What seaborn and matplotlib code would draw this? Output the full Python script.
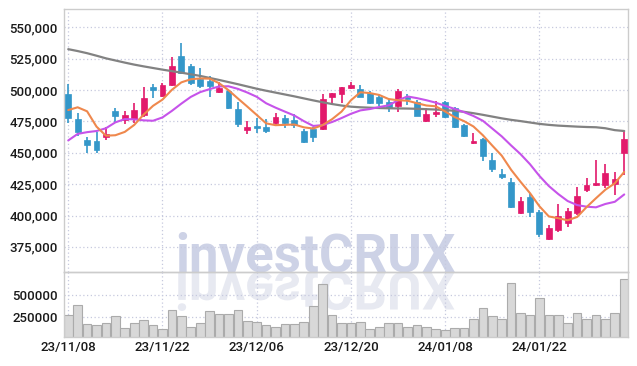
import numpy as np
import pandas as pd
import seaborn as sns
from matplotlib import pyplot as plt
from matplotlib.patches import PathPatch
from matplotlib.textpath import TextPath
from matplotlib.font_manager import FontProperties
from matplotlib.transforms import Affine2D
from matplotlib.ticker import FuncFormatter

# trading days (KRX), 23/11/08 .. 24/02/02
dates = ['23/11/08', '23/11/09', '23/11/10', '23/11/13', '23/11/14', '23/11/15', '23/11/16', '23/11/17', '23/11/20', '23/11/21',
         '23/11/22', '23/11/23', '23/11/24', '23/11/27', '23/11/28', '23/11/29', '23/11/30', '23/12/01', '23/12/04', '23/12/05',
         '23/12/06', '23/12/07', '23/12/08', '23/12/11', '23/12/12', '23/12/13', '23/12/14', '23/12/15', '23/12/18', '23/12/19',
         '23/12/20', '23/12/21', '23/12/22', '23/12/26', '23/12/27', '23/12/28', '24/01/02', '24/01/03', '24/01/04', '24/01/05',
         '24/01/08', '24/01/09', '24/01/10', '24/01/11', '24/01/12', '24/01/15', '24/01/16', '24/01/17', '24/01/18', '24/01/19',
         '24/01/22', '24/01/23', '24/01/24', '24/01/25', '24/01/26', '24/01/29', '24/01/30', '24/01/31', '24/02/01', '24/02/02']

open_ = [496800, 476900, 460100, 459400, 462800, 483500, 476100, 476700, 480100, 502200,
         495500, 504000, 527100, 519100, 508800, 507400, 498700, 499200, 484900, 468100,
         471600, 470800, 473500, 477500, 476100, 467400, 468700, 468700, 494700, 496600,
         501900, 500600, 497900, 494200, 490200, 487500, 494700, 490700, 475600, 480900,
         490700, 485400, 472100, 457600, 460700, 444200, 433300, 427000, 401800, 415000,
         402600, 381300, 388500, 394300, 401800, 420300, 424300, 424300, 425400, 449600]
high = [504800, 481400, 462300, 466800, 470800, 485400, 483000, 489400, 502600, 504800,
        505800, 526600, 537700, 520500, 517300, 511200, 506600, 500000, 490700, 475600,
        477500, 476700, 481900, 480100, 480900, 468700, 470800, 496800, 497600, 502400,
        506600, 504000, 499200, 496000, 492100, 500600, 496600, 492100, 485400, 491300,
        491300, 486500, 472500, 465500, 461800, 449600, 437100, 430100, 415000, 417700,
        404400, 392500, 409000, 405800, 423000, 429700, 444200, 440800, 434700, 466300]
low = [473900, 463300, 450000, 450000, 460100, 474700, 472700, 473500, 478300, 493400,
       494700, 503000, 512800, 504000, 501600, 494700, 497400, 485000, 470300, 465000,
       466000, 465500, 472100, 469500, 469500, 457600, 458800, 468100, 488900, 489400,
       500600, 494200, 488900, 487300, 482700, 482700, 488100, 478900, 474300, 478300,
       477700, 470100, 462300, 457000, 443700, 434400, 428900, 406200, 401000, 399000,
       382900, 380500, 387100, 391100, 400400, 419000, 423900, 421700, 416400, 432300]
close = [477500, 466800, 456400, 452200, 465000, 479300, 480100, 484100, 493400, 500000,
         504000, 519100, 513800, 505800, 503200, 503200, 501200, 485900, 472700, 470800,
         470000, 467600, 478700, 474000, 472100, 458800, 462800, 492600, 497400, 502200,
         504000, 494700, 489400, 489900, 485900, 499200, 492900, 479500, 480700, 482700,
         478300, 470800, 463400, 459400, 447700, 437100, 430900, 406800, 411600, 402600,
         385000, 390300, 399600, 403600, 415600, 424300, 425700, 433700, 428900, 461000]
volume = [268000, 379000, 175000, 164000, 186000, 255000, 131000, 186000, 220000, 164000,
          119000, 331000, 255000, 143000, 186000, 318000, 278000, 287000, 331000, 209000,
          195000, 164000, 142000, 175000, 175000, 197000, 368000, 622000, 277000, 186000,
          186000, 197000, 119000, 142000, 186000, 186000, 142000, 155000, 135000, 119000,
          108000, 131000, 131000, 231000, 354000, 257000, 231000, 633000, 298000, 276000,
          465000, 276000, 276000, 186000, 298000, 231000, 276000, 231000, 298000, 677000]

# moving-average values before enough history is on screen
ma5_head = [484000, 486200, 483000, 470800]
ma10_head = [459800, 465000, 466400, 467300, 469500, 474200, 476800, 476600, 475800]
ma60 = [532500, 531000, 529300, 527300, 525200, 523500, 521800, 520200, 518800, 517500,
        516200, 515000, 513800, 512500, 511200, 509600, 508000, 506300, 504600, 502800,
        501000, 499400, 497900, 496400, 494900, 493300, 491700, 490200, 488800, 487600,
        486700, 486200, 485900, 485600, 485400, 485300, 485200, 485000, 484700, 484400,
        484000, 483400, 482600, 481500, 480200, 478800, 477400, 476200, 475200, 474100,
        473000, 472200, 471600, 471200, 470800, 470500, 470300, 469500, 468000, 467300]

df = pd.DataFrame({'date': dates, 'open': open_, 'high': high, 'low': low,
                   'close': close, 'volume': volume})
df['idx'] = np.arange(len(df))
df['ma5'] = df['close'].rolling(5).mean()
df.loc[:len(ma5_head) - 1, 'ma5'] = ma5_head
df['ma10'] = df['close'].rolling(10).mean()
df.loc[:len(ma10_head) - 1, 'ma10'] = ma10_head
df['ma60'] = ma60

UP, DOWN = '#e2196b', '#3497c9'
GRID = '#c6c9de'

sns.set_theme(style='white')
plt.rcParams['font.family'] = ['Roboto', 'DejaVu Sans']

fig = plt.figure(figsize=(6.37, 3.66), dpi=100)
ax = fig.add_axes([64 / 637, 94 / 366, 564 / 637, 263 / 366])
axv = fig.add_axes([64 / 637, 29 / 366, 564 / 637, 65 / 366], sharex=ax)
for a in (ax, axv):
    a.set_facecolor('none')

# watermark + its reflection
fig.text(175 / 637, 94 / 366, 'investCRUX', ha='left', va='baseline', fontsize=38,
         fontweight='bold', family='Roboto', color='#cdd2e6', zorder=-2)
tp = TextPath((0, 0), 'investCRUX', size=38, prop=FontProperties(family='Roboto', weight='bold'))
refl = PathPatch(tp, facecolor='#e7e9f1', lw=0, zorder=-3,
                 transform=Affine2D().scale(1 / 72, -1 / 72).translate(1.75, 0.94) + fig.dpi_scale_trans)
fig.add_artist(refl)

# candles
up = df['close'] >= df['open']
colors = np.where(up, UP, DOWN)
bottom = df[['open', 'close']].min(axis=1)
height = (df['close'] - df['open']).abs().clip(lower=700)
ax.vlines(df['idx'], df['low'], df['high'], colors=colors, linewidth=1.2, zorder=3)
ax.bar(df['idx'], height, bottom=bottom, width=0.62, color=colors, edgecolor=colors,
       linewidth=0.5, zorder=3)

# moving averages
sns.lineplot(data=df, x='idx', y='ma60', ax=ax, color='#828282', linewidth=1.6, zorder=4)
sns.lineplot(data=df, x='idx', y='ma10', ax=ax, color='#c653ea', linewidth=1.5, zorder=4)
sns.lineplot(data=df, x='idx', y='ma5', ax=ax, color='#ef884d', linewidth=1.5, zorder=4)

ax.set_ylim(355000, 564500)
ax.set_yticks(np.arange(375000, 550001, 25000))
ax.yaxis.set_major_formatter(FuncFormatter(lambda v, _: f'{v:,.0f}'))

# volume
sns.barplot(data=df, x='idx', y='volume', ax=axv, native_scale=True, color='#d8d8d8',
            edgecolor='#ababab', linewidth=0.8, width=0.92, saturation=1)
axv.set_ylim(26000, 752000)
axv.set_yticks([250000, 500000])
axv.yaxis.set_major_formatter(FuncFormatter(lambda v, _: f'{v:.0f}'))

axv.set_xlim(-0.45, 59.4)
axv.set_xticks(df['idx'][::10])
axv.set_xticklabels(df['date'][::10])
ax.tick_params(axis='x', labelbottom=False)

for a in (ax, axv):
    a.set_xlabel('')
    a.set_ylabel('')
    a.grid(True, linestyle=(0, (1, 2)), color=GRID, linewidth=0.9)
    a.set_axisbelow(True)
    a.tick_params(length=0, labelsize=9.5, labelcolor='#1a1a1a', pad=4.5)
    for lbl in a.get_xticklabels() + a.get_yticklabels():
        lbl.set_fontweight('medium')
    for s in a.spines.values():
        s.set_visible(True)
        s.set_color('#cccccc')
        s.set_linewidth(1)
axv.tick_params(axis='x', pad=3)

plt.savefig('out.png', dpi=100)
